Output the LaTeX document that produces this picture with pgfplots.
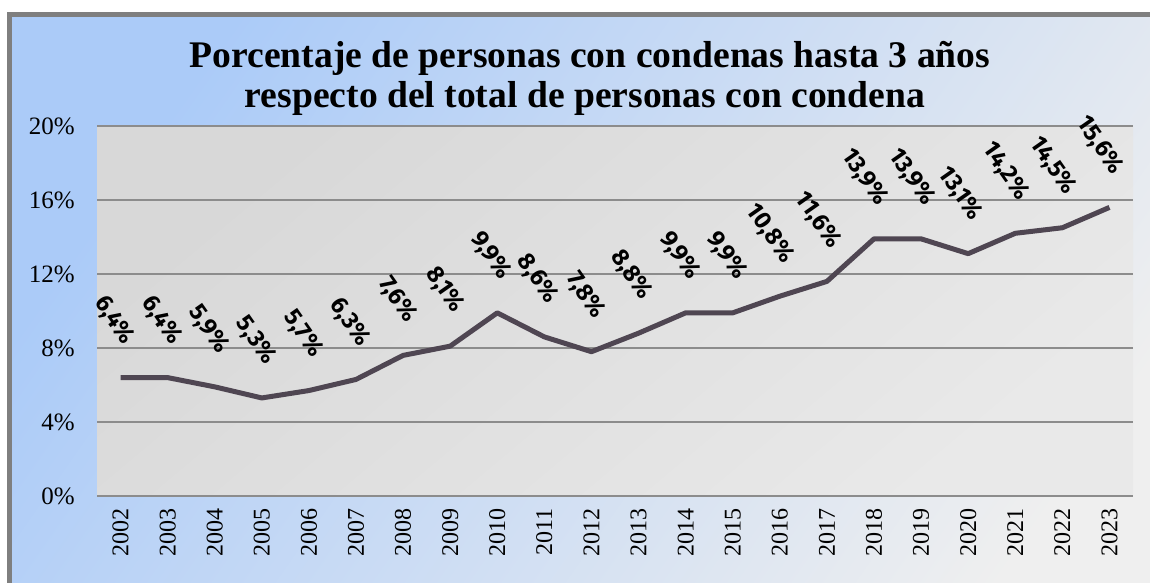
\documentclass[border=0pt]{standalone}
\usepackage{fontspec}
\setmainfont{Liberation Serif}
\newfontfamily\labelfont{Fira Sans}
\usepackage{pgfplots}
\pgfplotsset{compat=1.18}

\definecolor{bgblue}{HTML}{ABCBF8}
\definecolor{bggray}{HTML}{EFEFEF}
\definecolor{plottop}{HTML}{D8D8D8}
\definecolor{plotbot}{HTML}{E9E9E9}
\definecolor{framegray}{HTML}{7F7F7F}
\definecolor{gridgray}{HTML}{8C8C8C}
\definecolor{linec}{HTML}{4F4652}

\begin{document}
\begin{tikzpicture}
\useasboundingbox (0,0) rectangle (575pt,291.5pt);
\clip (0,0) rectangle (575pt,291.5pt);
\fill[white] (0,0) rectangle (575pt,291.5pt);
% chart area with gradient and frame (cropped at right and bottom)
\shade[top color=bgblue, bottom color=bggray, shading angle=55]
  (4.75pt,-20pt) rectangle (600pt,284.25pt);
\draw[framegray, line width=2.5pt] (4.75pt,-20pt) rectangle (600pt,284.25pt);

\node[anchor=base, font=\bfseries\fontsize{18.8}{20}\selectfont] at (295pt,257.5pt)
  {Porcentaje de personas con condenas hasta 3 años};
\node[anchor=base, font=\bfseries\fontsize{18.8}{20}\selectfont] at (292.5pt,237.5pt)
  {respecto del total de personas con condena};

\begin{axis}[
  at={(48.5pt,43.5pt)}, anchor=south west,
  scale only axis,
  width=518pt, height=185pt,
  xmin=-0.5, xmax=21.5,
  ymin=0, ymax=20,
  xtick={0,...,21},
  xticklabels={2002,2003,2004,2005,2006,2007,2008,2009,2010,2011,2012,2013,2014,2015,2016,2017,2018,2019,2020,2021,2022,2023},
  ytick={0,4,8,12,16,20},
  yticklabel={\pgfmathprintnumber{\tick}\%},
  /pgf/number format/assume math mode=true,
  axis line style={draw=none},
  tick style={draw=none},
  ymajorgrids,
  major grid style={gridgray, line width=1pt},
  axis background/.style={shade, top color=plottop, bottom color=plotbot, shading angle=40},
  yticklabel style={font=\fontsize{12.5}{14}\selectfont, inner sep=0pt},
  yticklabel shift=11pt,
  xticklabel style={font=\fontsize{12}{14}\selectfont, rotate=90, anchor=east, inner sep=0pt},
  xticklabel shift=6pt,
  clip=false,
  point meta=y,
  nodes near coords={\pgfmathprintnumber[fixed, fixed zerofill, precision=1, use comma]{\pgfplotspointmeta}\%},
  nodes near coords style={font=\labelfont\bfseries\fontsize{12}{14}\selectfont,
    xshift=5pt, yshift=17pt, rotate=-55, anchor=east, inner sep=0pt, text=black},
]
\addplot[color=linec, line width=2.5pt, line join=round, mark=none] coordinates {
  (0,6.4) (1,6.4) (2,5.9) (3,5.3) (4,5.7) (5,6.3) (6,7.6) (7,8.1) (8,9.9) (9,8.6)
  (10,7.8) (11,8.8) (12,9.9) (13,9.9) (14,10.8) (15,11.6) (16,13.9) (17,13.9)
  (18,13.1) (19,14.2) (20,14.5) (21,15.6)
};
\end{axis}
\end{tikzpicture}
\end{document}
